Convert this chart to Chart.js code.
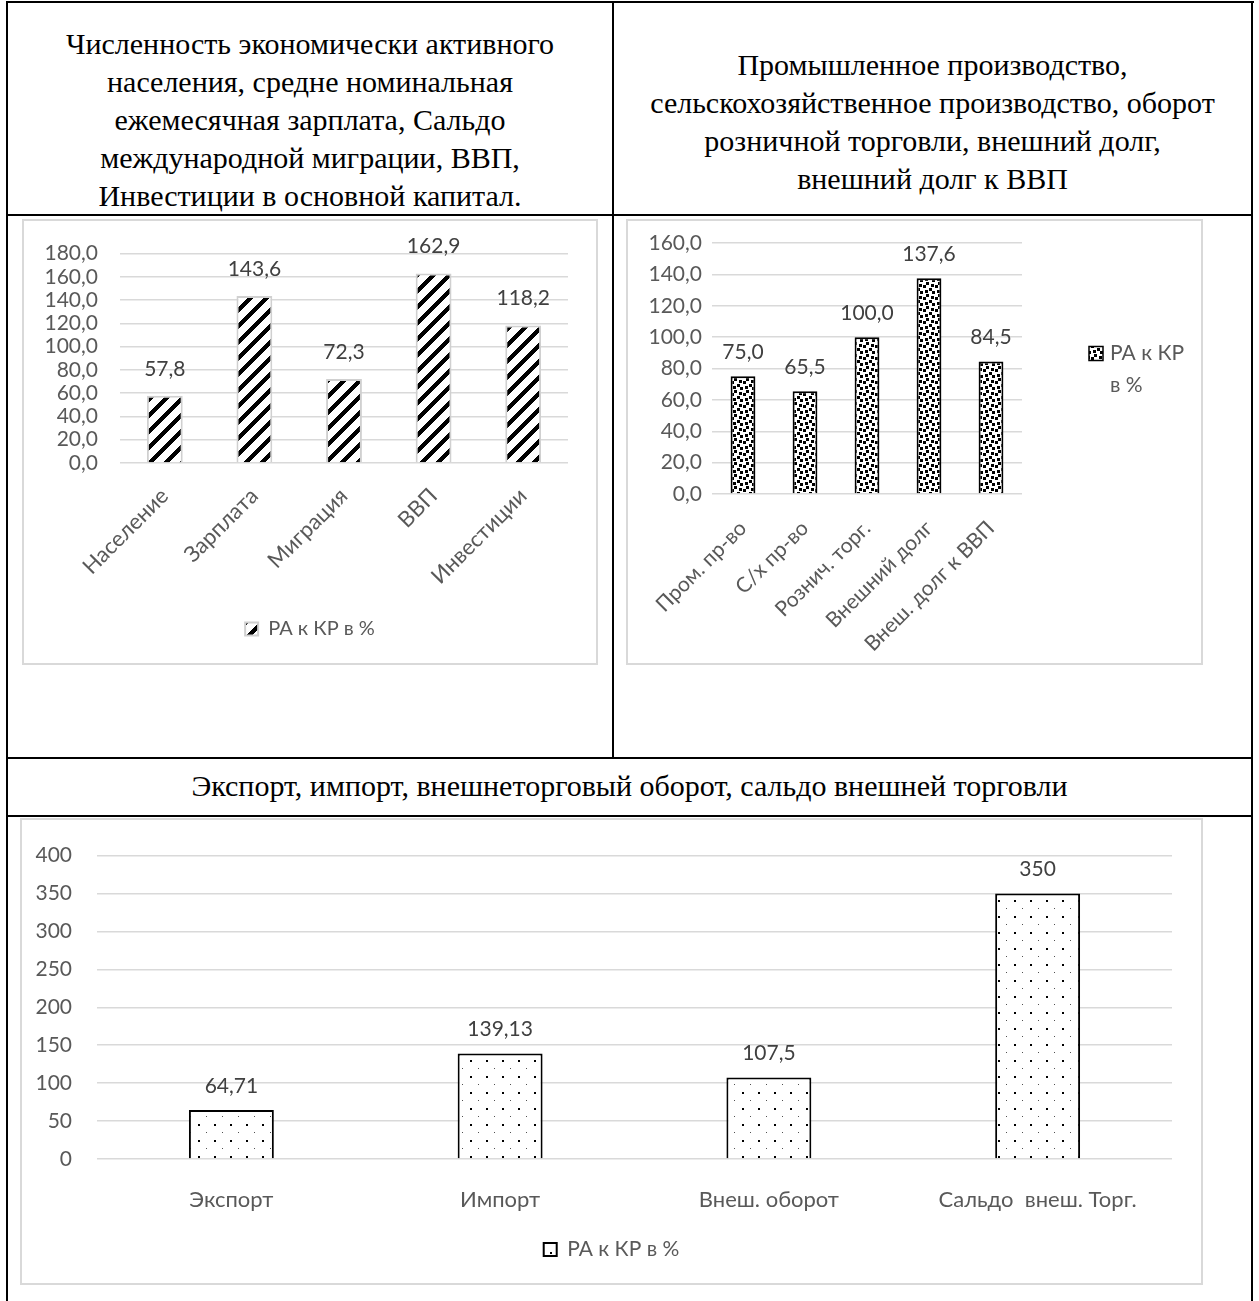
<!DOCTYPE html>
<html>
<head>
<meta charset="utf-8">
<script src="https://cdn.jsdelivr.net/npm/chart.js@4.4.0/dist/chart.umd.min.js"></script>
<style>
body { margin: 0; background: #fff; width: 1259px; height: 1301px; position: relative; overflow: hidden; }
.ln { position: absolute; background: #000; }
.hd { position: absolute; font-family: "Liberation Serif", "Times New Roman", serif; font-size: 30px; line-height: 38px; text-align: center; color: #000; }
.box { position: absolute; border: 2px solid #d9d9d9; box-sizing: border-box; }
canvas { position: absolute; }
</style>
</head>
<body>
<div class="ln" style="left:6px;top:1px;width:1248px;height:2px"></div>
<div class="ln" style="left:6px;top:1px;width:2px;height:1300px"></div>
<div class="ln" style="left:1251px;top:1px;width:2px;height:1300px"></div>
<div class="ln" style="left:612px;top:1px;width:2px;height:758px"></div>
<div class="ln" style="left:6px;top:214px;width:1247px;height:2px"></div>
<div class="ln" style="left:6px;top:757px;width:1247px;height:2px"></div>
<div class="ln" style="left:6px;top:815px;width:1247px;height:2px"></div>

<div class="hd" style="left:8px;top:25px;width:604px">Численность экономически активного<br>населения, средне номинальная<br>ежемесячная зарплата, Сальдо<br>международной миграции, ВВП,<br>Инвестиции в основной капитал.</div>
<div class="hd" style="left:614px;top:46px;width:637px">Промышленное производство,<br>сельскохозяйственное производство, оборот<br>розничной торговли, внешний долг,<br>внешний долг к ВВП</div>
<div class="hd" style="left:8px;top:767px;width:1243px">Экспорт, импорт, внешнеторговый оборот, сальдо внешней торговли</div>

<div class="box" style="left:22px;top:219px;width:576px;height:446px"></div>
<div class="box" style="left:626px;top:219px;width:577px;height:446px"></div>
<div class="box" style="left:20px;top:818px;width:1183px;height:467px"></div>

<canvas id="chartLeft" width="576" height="446" style="left:22px;top:219px"></canvas>
<canvas id="chartRight" width="577" height="446" style="left:626px;top:219px"></canvas>
<canvas id="chartTrade" width="1183" height="467" style="left:20px;top:818px"></canvas>

<script>
var seriesName = "РА к КР в %";

var leftCategories = ["Население", "Зарплата", "Миграция", "ВВП", "Инвестиции"];
var leftValues = [57.8, 143.6, 72.3, 162.9, 118.2];

var rightCategories = ["Пром. пр-во", "С/х пр-во", "Рознич. торг.", "Внешний долг", "Внеш. долг к ВВП"];
var rightValues = [75.0, 65.5, 100.0, 137.6, 84.5];

var tradeCategories = ["Экспорт", "Импорт", "Внеш. оборот", "Сальдо  внеш. Торг."];
var tradeValues = [64.71, 139.13, 107.5, 350];

Chart.defaults.font.family = "Lato";
Chart.defaults.font.size = 21;
Chart.defaults.color = "#595959";

// fill patterns like the Excel ones
function makePattern(size, fn) {
	var c = document.createElement("canvas");
	c.width = size;
	c.height = size;
	var g = c.getContext("2d");
	var img = g.createImageData(size, size);
	for (var y = 0; y < size; y++) {
		for (var x = 0; x < size; x++) {
			var v = fn(x, y);
			var i = (y * size + x) * 4;
			img.data[i] = v;
			img.data[i + 1] = v;
			img.data[i + 2] = v;
			img.data[i + 3] = 255;
		}
	}
	g.putImageData(img, 0, 0);
	return g.createPattern(c, "repeat");
}

var stripes = makePattern(16, function (x, y) {
	return ((x + y) % 16) < 6 ? 0 : 255;
});

var confettiBits = [0x8d, 0x0c, 0xc0, 0xd8, 0x1b, 0x03, 0x30, 0xb1];
var confetti = makePattern(12, function (x, y) {
	var bx = Math.floor(x / 1.5), by = Math.floor(y / 1.5);
	return (confettiBits[by] >> (7 - bx)) & 1 ? 0 : 255;
});

var dots = makePattern(16, function (x, y) {
	if ((x == 2 || x == 3) && (y == 2 || y == 3)) return 0;
	if (x == 10 && y == 10) return 80;
	return 255;
});

function comma(v, dec) {
	var s = dec == null ? String(v) : v.toFixed(dec);
	return s.replace(".", ",");
}

// value labels above the bars
var valueLabels = {
	id: "valueLabels",
	afterDatasetsDraw: function (chart, args, opts) {
		var ctx = chart.ctx;
		var meta = chart.getDatasetMeta(0);
		var values = chart.data.datasets[0].data;
		ctx.save();
		ctx.font = "21px Lato";
		ctx.fillStyle = "#404040";
		ctx.textAlign = "center";
		ctx.textBaseline = "middle";
		for (var i = 0; i < meta.data.length; i++) {
			var bar = meta.data[i];
			ctx.fillText(comma(values[i], opts.decimals), bar.x, bar.y - opts.offset);
		}
		ctx.restore();
	}
};

// Excel centres the legend on the whole chart box, not on the plot
var wideLegend = {
	id: "wideLegend",
	afterLayout: function (chart) {
		if (chart.legend && chart.options.plugins.legend.display !== false) {
			chart.legend.left = 0;
			chart.legend.right = chart.width;
			chart.legend.width = chart.width;
		}
	}
};

// legend on the right broken into two lines
var sideLegend = {
	id: "sideLegend",
	afterDraw: function (chart, args, opts) {
		if (!opts.lines) return;
		var ctx = chart.ctx;
		var area = chart.chartArea;
		var ds = chart.data.datasets[0];
		var x = area.right + opts.offsetX;
		var mid = (area.top + area.bottom) / 2;
		ctx.save();
		ctx.fillStyle = ds.backgroundColor;
		ctx.fillRect(x, mid - 22, 14, 14);
		ctx.strokeStyle = "#000";
		ctx.lineWidth = 1.5;
		ctx.strokeRect(x, mid - 22, 14, 14);
		ctx.font = "21px Lato";
		ctx.fillStyle = "#595959";
		ctx.textAlign = "left";
		ctx.textBaseline = "middle";
		ctx.fillText(opts.lines[0], x + 21, mid - 15);
		ctx.fillText(opts.lines[1], x + 21, mid + 17);
		ctx.restore();
	}
};

var grid = { color: "#d9d9d9", lineWidth: 1.5, drawTicks: false };

var chartLeft = new Chart(document.getElementById("chartLeft"), {
	type: "bar",
	data: {
		labels: leftCategories,
		datasets: [{
			label: seriesName,
			data: leftValues,
			backgroundColor: stripes,
			borderColor: "#d0d0d0",
			borderWidth: 2,
			categoryPercentage: 1,
			barPercentage: 0.4
		}]
	},
	options: {
		responsive: false,
		animation: false,
		layout: { padding: { top: 30, right: 30, left: 0, bottom: 16 } },
		scales: {
			x: {
				grid: { display: false },
				border: { display: false },
				ticks: { minRotation: 45, maxRotation: 45, padding: 12, font: { size: 22 } },
				afterFit: function (s) { s.height = 146; }
			},
			y: {
				min: 0,
				max: 180,
				grid: grid,
				border: { display: false },
				ticks: { stepSize: 20, autoSkip: false, padding: 22, callback: function (v) { return comma(v, 1); } },
				afterFit: function (s) { s.width = 98; }
			}
		},
		plugins: {
			legend: {
				position: "bottom",
				labels: { boxWidth: 13, boxHeight: 13, padding: 10, font: { size: 20 } }
			},
			tooltip: { enabled: false },
			valueLabels: { decimals: 1, offset: 27 }
		}
	},
	plugins: [valueLabels, wideLegend]
});

var chartRight = new Chart(document.getElementById("chartRight"), {
	type: "bar",
	data: {
		labels: rightCategories,
		datasets: [{
			label: seriesName,
			data: rightValues,
			backgroundColor: confetti,
			borderColor: "#000",
			borderWidth: 2,
			categoryPercentage: 1,
			barPercentage: 0.4
		}]
	},
	options: {
		responsive: false,
		animation: false,
		layout: { padding: { top: 24, right: 181, left: 0, bottom: 0 } },
		scales: {
			x: {
				grid: { display: false },
				border: { display: false },
				ticks: { minRotation: 45, maxRotation: 45, padding: 14 },
				afterFit: function (s) { s.height = 171; }
			},
			y: {
				min: 0,
				max: 160,
				grid: grid,
				border: { display: false },
				ticks: { stepSize: 20, autoSkip: false, padding: 10, callback: function (v) { return comma(v, 1); } },
				afterFit: function (s) { s.width = 86; }
			}
		},
		plugins: {
			legend: { display: false },
			tooltip: { enabled: false },
			valueLabels: { decimals: 1, offset: 24 },
			sideLegend: { lines: ["РА к КР", "в %"], offsetX: 67 }
		}
	},
	plugins: [valueLabels, sideLegend]
});

var chartTrade = new Chart(document.getElementById("chartTrade"), {
	type: "bar",
	data: {
		labels: tradeCategories,
		datasets: [{
			label: seriesName,
			data: tradeValues,
			backgroundColor: dots,
			borderColor: "#000",
			borderWidth: 2,
			categoryPercentage: 1,
			barPercentage: 0.316
		}]
	},
	options: {
		responsive: false,
		animation: false,
		layout: { padding: { top: 27, right: 31, left: 0, bottom: 15 } },
		scales: {
			x: {
				grid: { display: false },
				border: { display: false },
				ticks: { maxRotation: 0, padding: 20, font: { size: 22 } },
				afterFit: function (s) { s.height = 70; }
			},
			y: {
				min: 0,
				max: 400,
				grid: grid,
				border: { display: false },
				ticks: { stepSize: 50, autoSkip: false, padding: 25 },
				afterFit: function (s) { s.width = 77; }
			}
		},
		plugins: {
			legend: {
				position: "bottom",
				labels: { boxWidth: 13, boxHeight: 13, padding: 10 }
			},
			tooltip: { enabled: false },
			valueLabels: { decimals: null, offset: 24 }
		}
	},
	plugins: [valueLabels, wideLegend]
});
</script>
</body>
</html>
